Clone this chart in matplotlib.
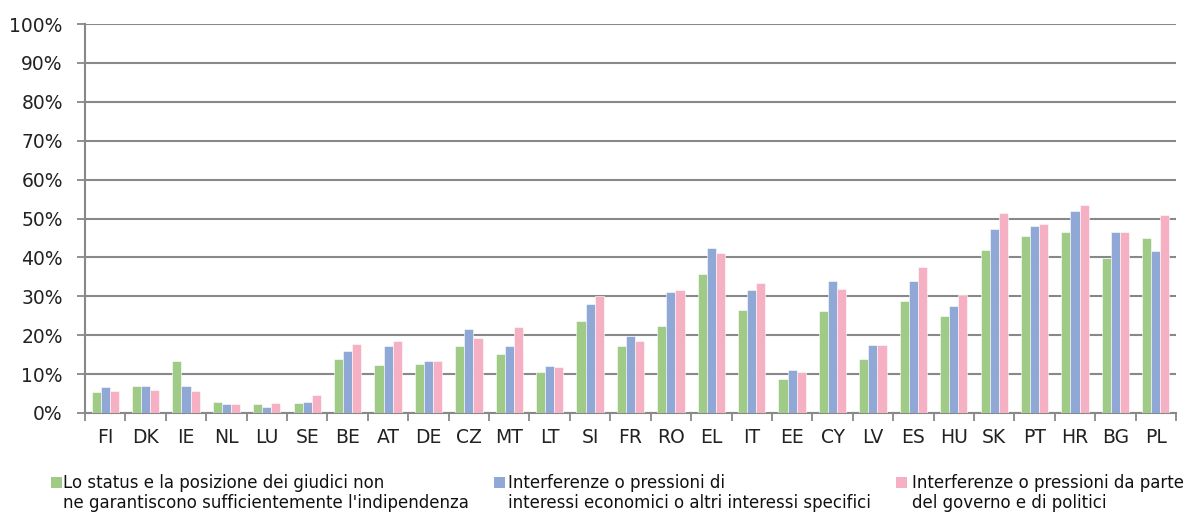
import matplotlib
matplotlib.use("Agg")
import matplotlib.pyplot as plt
import numpy as np
from matplotlib.patches import Rectangle

countries = ["FI", "DK", "IE", "NL", "LU", "SE", "BE", "AT", "DE", "CZ", "MT", "LT", "SI", "FR",
             "RO", "EL", "IT", "EE", "CY", "LV", "ES", "HU", "SK", "PT", "HR", "BG", "PL"]
status = [5.3, 6.9, 13.3, 2.8, 2.2, 2.5, 13.8, 12.3, 12.5, 17.3, 15.2, 10.6, 23.7, 17.1,
          22.4, 35.7, 26.4, 8.7, 26.2, 13.8, 28.7, 25.0, 41.9, 45.5, 46.6, 39.9, 44.9]
economic = [6.7, 6.9, 6.9, 2.2, 1.6, 2.8, 16.0, 17.1, 13.3, 21.5, 17.3, 12.0, 28.0, 19.8,
            31.1, 42.4, 31.7, 11.0, 33.9, 17.6, 33.9, 27.4, 47.2, 48.2, 52.0, 46.6, 41.6]
government = [5.7, 5.9, 5.7, 2.2, 2.5, 4.6, 17.7, 18.4, 13.3, 19.2, 22.1, 11.7, 30.1, 18.4,
              31.5, 41.1, 33.4, 10.5, 32.0, 17.6, 37.5, 30.3, 51.4, 48.5, 53.5, 46.6, 50.9]
series_labels = [
    "Lo status e la posizione dei giudici non\nne garantiscono sufficientemente l'indipendenza",
    "Interferenze o pressioni di\ninteressi economici o altri interessi specifici",
    "Interferenze o pressioni da parte\ndel governo e di politici",
]
colors = ["#A0CB87", "#8FA8D6", "#F5B0C4"]
yticks = [0, 10, 20, 30, 40, 50, 60, 70, 80, 90, 100]

plt.rcParams['font.family'] = ['DejaVu Sans']
W, H = 1187, 513
fig = plt.figure(figsize=(W/100, H/100), dpi=100)
ax = fig.add_axes([85/W, 1-413/H, (1176-85)/W, (413-24)/H])

x = np.arange(len(countries))
w = 0.225
for i, (vals, c) in enumerate(zip([status, economic, government], colors)):
    ax.bar(x + (i-1)*w, vals, width=w, color=c, edgecolor="white", linewidth=0.4, zorder=3)

ax.set_xlim(-0.5, len(countries)-0.5)
ax.set_ylim(0, 100)
ax.set_yticks(yticks)
ax.set_yticklabels([f"{v}%" for v in yticks], fontsize=13.5, color="#222222")
ax.set_xticks(x)
ax.set_xticklabels(countries, fontsize=13.5, color="#222222")
ax.tick_params(axis="x", length=0, pad=11)
ax.set_xticks(np.arange(-0.5, len(countries), 1), minor=True)
ax.tick_params(axis="x", which="minor", length=6, width=1.3, color="#888888", direction="out")
ax.tick_params(axis="y", length=6, width=1.3, color="#888888", direction="out", pad=10)
ax.yaxis.grid(True, color="#888888", linewidth=1.5, zorder=0)
ax.set_axisbelow(True)
for s in ["top", "right"]:
    ax.spines[s].set_visible(False)
for s in ["left", "bottom"]:
    ax.spines[s].set_color("#888888")
    ax.spines[s].set_linewidth(1.5)

marker_x = [51, 494, 896]
text_x = [63, 508, 912]
for lab, c, mx, tx in zip(series_labels, colors, marker_x, text_x):
    fig.patches.append(Rectangle((mx/W, 1-488/H), 11/W, 11/H, transform=fig.transFigure,
                                 facecolor=c, edgecolor="none"))
    for k, line in enumerate(lab.split("\n")):
        fig.text(tx/W, 1-(488+20*k)/H, line, fontsize=12, color="#111111",
                 ha="left", va="baseline")

fig.savefig("out.png", dpi=100)
